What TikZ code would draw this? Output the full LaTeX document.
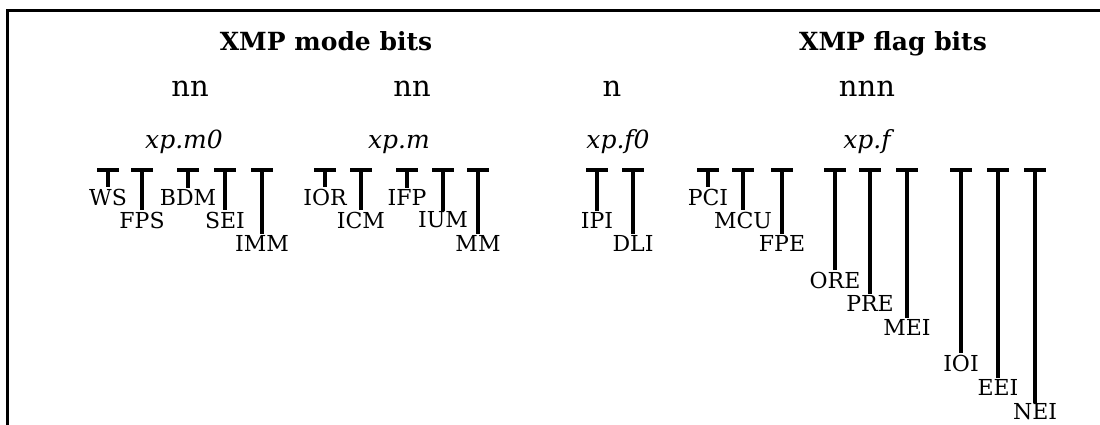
\documentclass[tikz,border=0pt]{standalone}
\usepackage{fontspec}
\setmainfont{DejaVu Serif}
\usetikzlibrary{arrows.meta}

\tikzset{
  fieldhead/.style={font=\fontsize{25}{25}\selectfont\bfseries, inner sep=0pt, anchor=base},
  fieldsize/.style={font=\fontsize{29}{29}\selectfont, inner sep=0pt, anchor=base},
  regname/.style={font=\fontsize{25}{25}\selectfont\itshape, inner sep=0pt, anchor=base},
  bitname/.style={font=\fontsize{22}{22}\selectfont, inner sep=1pt},
  bitline/.style={line width=3.2pt, {Bar[width=22pt,line width=4pt]}-},
}

\begin{document}
\begin{tikzpicture}[x=1pt,y=-1pt]
  \useasboundingbox (0,0) rectangle (1100,425);
  % frame, open to the right and below
  \draw[line width=3pt] (7,425) -- (7,11) -- (1100,11);

  \node[fieldhead] (modehead) at (326,51) {XMP mode bits};
  \node[fieldhead] (flaghead) at (893,51) {XMP flag bits};

  \node[fieldsize] (mzsize) at (190,97) {nn};
  \node[fieldsize] (msize)  at (412,97) {nn};
  \node[fieldsize] (fzsize) at (612,97) {n};
  \node[fieldsize] (fsize)  at (867,97) {nnn};

  \node[regname] (mzreg) at (184,149) {xp.m0};
  \node[regname] (mreg)  at (399,149) {xp.m};
  \node[regname] (fzreg) at (618,149) {xp.f0};
  \node[regname] (freg)  at (867,149) {xp.f};

  % one tee per bit, name hung below it
  \foreach \bit/\x/\y in {WS/108/197, FPS/142/220, BDM/188/197, SEI/225/220, IMM/262/243,
                          IOR/325/197, ICM/361/220, IFP/407/197, IUM/443/220, MM/478/243,
                          IPI/597/220, DLI/633/243,
                          PCI/708/197, MCU/743/220, FPE/782/243,
                          ORE/835/280, PRE/870/303, MEI/907/327,
                          IOI/961/363, EEI/998/387, NEI/1035/412}{
    \coordinate (top\bit) at (\x,168);
    \node[bitname] (\bit) at (\x,\y) {\bit};
    \draw[bitline] (top\bit) -- (\bit.north);
  }
\end{tikzpicture}
\end{document}
